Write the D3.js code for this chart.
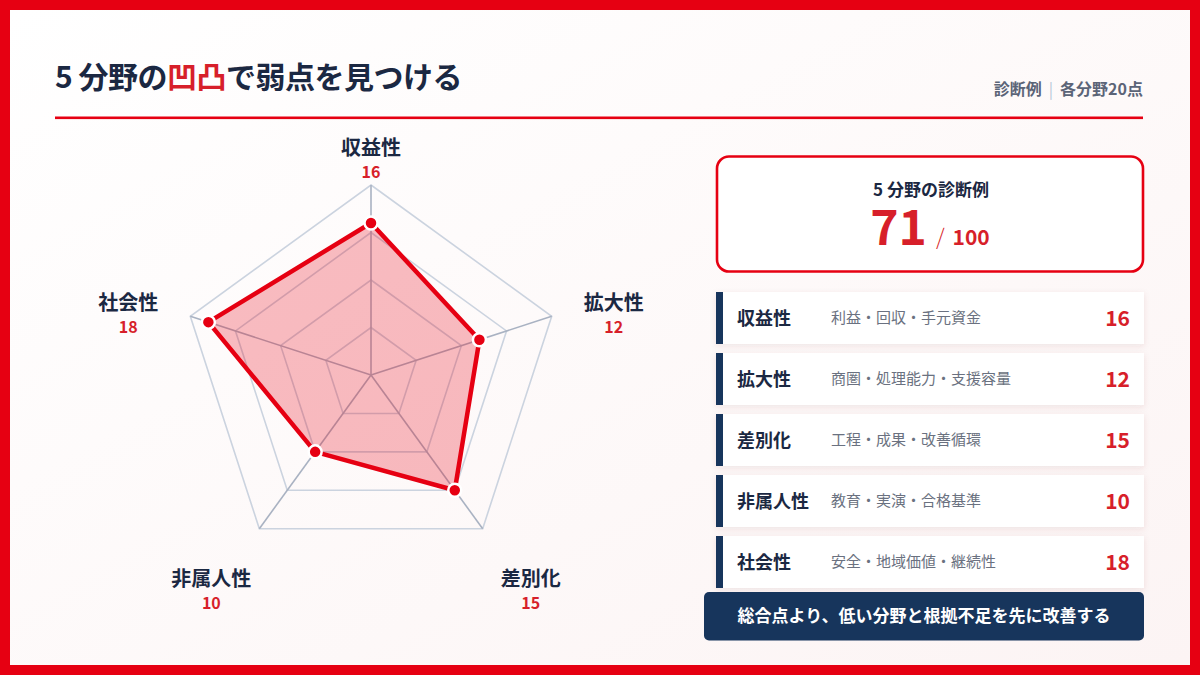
<!DOCTYPE html>
<html><head><meta charset="utf-8">
<script src="https://cdn.jsdelivr.net/npm/d3@7"></script>
<style>
html,body{margin:0;padding:0;background:#e60012;}
svg{display:block;font-family:"Noto Sans CJK JP","Noto Sans",sans-serif;}
</style></head>
<body>
<svg id="c" width="1200" height="675"></svg>
<script>
const categories = ["収益性","拡大性","差別化","非属人性","社会性"];
const values = [16,12,15,10,18];
const descriptions = ["利益・回収・手元資金","商圏・処理能力・支援容量","工程・成果・改善循環","教育・実演・合格基準","安全・地域価値・継続性"];
const gridLevels = [5,10,15,20];
const maxValue = 20;
const titleParts = [["5 分野の",false],["凹凸",true],["で弱点を見つける",false]];
const subtitleLeft = "診断例";
const subtitleRight = "各分野20点";
const scoreTitle = "5 分野の診断例";
const totalMax = 100;
const bannerText = "総合点より、低い分野と根拠不足を先に改善する";

const RED = "#e60012", NAVY = "#17355c", DARK = "#1b2842", TEXTRED = "#d71f2a";
const svg = d3.select("#c");
const defs = svg.append("defs");
const g1 = defs.append("linearGradient").attr("id","bg").attr("x1","0").attr("y1","0").attr("x2","1").attr("y2","1");
g1.append("stop").attr("offset","0").attr("stop-color","#ffffff");
g1.append("stop").attr("offset","1").attr("stop-color","#fcf4f4");
const f = defs.append("filter").attr("id","sh").attr("x","-10%").attr("y","-30%").attr("width","120%").attr("height","170%");
f.append("feDropShadow").attr("dx",0).attr("dy",2).attr("stdDeviation",3).attr("flood-color","#7a2a2a").attr("flood-opacity",0.10);

// frame
svg.append("rect").attr("width",1200).attr("height",675).attr("fill",RED);
svg.append("rect").attr("x",10).attr("y",10).attr("width",1180).attr("height",655).attr("fill","url(#bg)");

// title
const t = svg.append("text").attr("x",55).attr("y",88).attr("font-size",30).attr("font-weight",700).attr("fill",DARK).attr("letter-spacing",-0.5);
titleParts.forEach(([s,red])=>t.append("tspan").text(s).attr("fill",red?TEXTRED:DARK));
svg.append("rect").attr("x",55).attr("y",116.5).attr("width",1088).attr("height",2.6).attr("fill",RED);

const st = svg.append("text").attr("x",1143).attr("y",95).attr("text-anchor","end").attr("font-size",16).attr("font-weight",700).attr("fill","#5b6477");
st.append("tspan").text(subtitleLeft);
st.append("tspan").text("|").attr("dx",7).attr("fill","#b8c6d8").attr("font-weight",400);
st.append("tspan").text(subtitleRight).attr("dx",7);

// radar
const cx = 371, cy = 375, R = 190;
const r = d3.scaleLinear().domain([0,maxValue]).range([0,R]);
const ang = d3.scaleLinear().domain([0,categories.length]).range([0,2*Math.PI]);
const radar = svg.append("g").attr("transform",`translate(${cx},${cy})`);
const ringLine = d3.lineRadial().angle((d,i)=>ang(i)).radius(d=>r(d)).curve(d3.curveLinearClosed);
gridLevels.forEach(l=>{
  radar.append("path").attr("d",ringLine(categories.map(()=>l))).attr("fill","none").attr("stroke","#cbd3df").attr("stroke-width",1.6);
});
categories.forEach((c,i)=>{
  const a = ang(i);
  radar.append("line").attr("x1",0).attr("y1",0).attr("x2",r(maxValue)*Math.sin(a)).attr("y2",-r(maxValue)*Math.cos(a))
    .attr("stroke","#a9b2c2").attr("stroke-width",1.6);
});
radar.append("path").attr("d",ringLine(values)).attr("fill",RED).attr("fill-opacity",0.26)
  .attr("stroke",RED).attr("stroke-width",4.5).attr("stroke-linejoin","round");
radar.selectAll("circle.pt").data(values).join("circle").attr("class","pt")
  .attr("cx",(d,i)=>r(d)*Math.sin(ang(i))).attr("cy",(d,i)=>-r(d)*Math.cos(ang(i)))
  .attr("r",6.5).attr("fill",RED).attr("stroke","#fff").attr("stroke-width",2.5);

categories.forEach((c,i)=>{
  const a = ang(i), s = Math.sin(a), co = Math.cos(a);
  const vx = r(maxValue)*s, vy = -r(maxValue)*co;
  let lx, ly;
  if (Math.abs(s) < 0.1) { lx = vx; ly = vy - 30; }
  else if (co < -0.5) { lx = vx + Math.sign(s)*48; ly = vy + 57; }
  else { lx = vx + Math.sign(s)*62; ly = vy - 6; }
  radar.append("text").attr("x",lx).attr("y",ly).attr("text-anchor","middle").attr("font-size",20).attr("font-weight",700).attr("fill",DARK).text(c);
  radar.append("text").attr("x",lx).attr("y",ly+23).attr("text-anchor","middle").attr("font-size",16).attr("font-weight",700).attr("fill",TEXTRED).text(values[i]);
});

// score box
const total = d3.sum(values);
svg.append("rect").attr("x",717).attr("y",156.5).attr("width",426).attr("height",115).attr("rx",12).attr("fill","#fff").attr("stroke",RED).attr("stroke-width",2.6);
svg.append("text").attr("x",931).attr("y",196).attr("text-anchor","middle").attr("font-size",17).attr("font-weight",700).attr("fill",DARK).text(scoreTitle);
const sc = svg.append("text").attr("x",930).attr("y",245).attr("text-anchor","middle").attr("fill",TEXTRED).attr("font-weight",700);
sc.append("tspan").attr("font-size",48).text(total);
sc.append("tspan").attr("font-size",22).attr("font-weight",300).attr("dx",9).text("/");
sc.append("tspan").attr("font-size",21).attr("dx",8).text(totalMax);

// rows
const rows = svg.selectAll("g.row").data(categories).join("g").attr("class","row")
  .attr("transform",(d,i)=>`translate(716,${292+i*61})`);
rows.append("rect").attr("width",428).attr("height",52).attr("fill","#fff").attr("filter","url(#sh)");
rows.append("rect").attr("width",7).attr("height",52).attr("fill",NAVY);
rows.append("text").attr("x",21).attr("y",33).attr("font-size",18).attr("font-weight",700).attr("fill",DARK).text(d=>d);
rows.append("text").attr("x",115).attr("y",31).attr("font-size",15).attr("fill","#6a7180").text((d,i)=>descriptions[i]);
rows.append("text").attr("x",414).attr("y",34).attr("text-anchor","end").attr("font-size",21).attr("font-weight",700).attr("fill",TEXTRED).text((d,i)=>values[i]);

// banner
svg.append("rect").attr("x",704).attr("y",592).attr("width",440).attr("height",48.5).attr("rx",5).attr("fill",NAVY);
svg.append("text").attr("x",924).attr("y",622).attr("text-anchor","middle").attr("font-size",17).attr("font-weight",700).attr("fill","#fff").text(bannerText);
</script>
</body></html>
